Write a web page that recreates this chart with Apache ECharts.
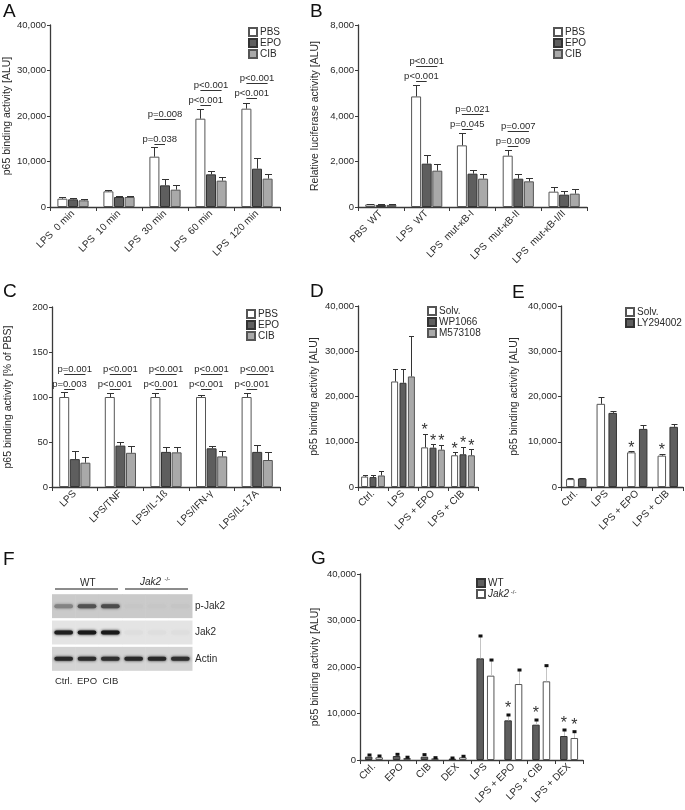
<!DOCTYPE html>
<html><head><meta charset="utf-8">
<script src="https://cdn.jsdelivr.net/npm/echarts@6/dist/echarts.min.js"></script>
<style>html,body{margin:0;padding:0;background:#fff}#c{width:685px;height:810px}</style>
</head><body><div id="c"></div>
<script>
// ---------------- DATA ----------------
// Panel A
const aCategories = ['LPS  0 min', 'LPS  10 min', 'LPS  30 min', 'LPS  60 min', 'LPS  120 min'];
const aPBS = [1830, 3440, 11060, 19410, 21610];
const aPBSErr = [2120, 3800, 13190, 21540, 22930];
const aEPO = [1685, 2200, 4760, 7180, 8420];
const aEPOErr = [1980, 2490, 6080, 7840, 10700];
const aCIB = [1465, 2200, 3810, 5790, 6230];
const aCIBErr = [1685, 2490, 4760, 6520, 7180];
const aSig = [[2, 13850, 19340], [3, 22420, 25710], [4, 23890, 27190]];
const aSigLow = ['p=0.038', 'p<0.001', 'p<0.001'];
const aSigHigh = ['p=0.008', 'p<0.001', 'p<0.001'];
const aTicks = [0, 10000, 20000, 30000, 40000];

// Panel B
const bCategories = ['PBS  WT', 'LPS  WT', 'LPS  mut-κB-I', 'LPS  mut-κB-II', 'LPS  mut-κB-I/II'];
const bPBS = [117, 4860, 2710, 2256, 674];
const bPBSErr = [150, 5380, 3267, 2520, 894];
const bEPO = [90, 1905, 1465, 1245, 542];
const bEPOErr = [115, 2270, 1640, 1436, 703];
const bCIB = [90, 1597, 1245, 1128, 586];
const bCIBErr = [115, 1875, 1436, 1275, 791];
const bSig = [[1, 5540, 6200], [2, 3415, 4100], [3, 2680, 3355]];
const bSigLow = ['p<0.001', 'p=0.045', 'p=0.009'];
const bSigHigh = ['p<0.001', 'p=0.021', 'p=0.007'];
const bTicks = [0, 2000, 4000, 6000, 8000];

// Panel C
const cCategories = ['LPS', 'LPS/TNF', 'LPS/IL-1ß', 'LPS/IFN-γ', 'LPS/IL-17A'];
const cPBS = [100, 100, 100, 100, 100];
const cPBSErr = [106, 105, 105, 102, 104];
const cEPO = [31, 46, 39, 43, 39];
const cEPOErr = [40, 50, 45, 46, 47];
const cCIB = [27, 38, 38.5, 34, 30];
const cCIBErr = [33, 46, 45, 40, 38.5];
const cSig = [[0, 109, 125.6], [1, 109, 125.6], [2, 109, 125.6], [3, 109, 125.6], [4, 109, 125.6]];
const cSigLow = ['p=0.003', 'p<0.001', 'p<0.001', 'p<0.001', 'p<0.001'];
const cSigHigh = ['p=0.001', 'p<0.001', 'p<0.001', 'p<0.001', 'p<0.001'];
const cTicks = [0, 50, 100, 150, 200];

// Panel D
const dCategories = ['Ctrl.', 'LPS', 'LPS + EPO', 'LPS + CIB'];
const dSolv = [2300, 23320, 8760, 7010];
const dSolvErr = [2550, 26050, 11800, 7660];
const dWP = [2190, 23030, 8690, 7230];
const dWPErr = [2700, 26050, 9420, 8830];
const dM57 = [2550, 24430, 8250, 7010];
const dM57Err = [3500, 33280, 9340, 8320];
const dStars = [[2, 0], [2, 1], [2, 2], [3, 0], [3, 1], [3, 2]];

// Panel E
const eCategories = ['Ctrl.', 'LPS', 'LPS + EPO', 'LPS + CIB'];
const eSolv = [1750, 18380, 7660, 6930];
const eSolvErr = [1900, 20000, 7880, 7300];
const eLY = [1900, 16380, 12840, 13300];
const eLYErr = [2040, 16900, 13800, 13900];
const eStars = [[2, 0], [3, 0]];

// Panel F (western blot band intensities, 0..1)
const fLanes = ['Ctrl.', 'EPO', 'CIB', 'Ctrl.', 'EPO', 'CIB'];
const fRows = ['p-Jak2', 'Jak2', 'Actin'];
const fPJak2 = [0.4, 0.68, 0.72, 0.02, 0.02, 0.03];
const fJak2 = [0.97, 1.0, 1.0, 0.03, 0.03, 0.03];
const fActin = [0.92, 0.9, 0.88, 0.92, 0.92, 0.88];

// Panel G
const gCategories = ['Ctrl.', 'EPO', 'CIB', 'DEX', 'LPS', 'LPS + EPO', 'LPS + CIB', 'LPS + DEX'];
const gWT = [717, 860, 717, 290, 21860, 8530, 7600, 5160];
const gWTErr = [1075, 1220, 1150, 430, 26670, 9680, 8600, 6450];
const gJak = [573, 430, 360, 573, 18140, 16340, 16920, 4730];
const gJakErr = [860, 600, 500, 800, 21500, 19350, 20290, 6090];
const gStars = [[5, 0], [6, 0], [7, 0], [7, 1]];

// ---------------- STYLE ----------------
const FONT = '"Liberation Sans", Arial, sans-serif';
const TXT = '#2a2a2a';
const AX = '#3a3a3a';
const WHITE = { color: '#ffffff', borderColor: '#555555', borderWidth: 1 };
const DARK = { color: '#5e5e5e', borderColor: '#333333', borderWidth: 1 };
const LIGHT = { color: '#a9a9a9', borderColor: '#555555', borderWidth: 1 };

const chart = echarts.init(document.getElementById('c'), null, { renderer: 'canvas', width: 685, height: 810 });

function fmtNum(v) { return Math.round(v).toString().replace(/\B(?=(\d{3})+(?!\d))/g, ','); }

function xAx(gi, cats) {
  return {
    type: 'category', gridIndex: gi, data: cats,
    axisLine: { show: true, lineStyle: { color: AX, width: 1.3 } },
    axisTick: { show: true, alignWithLabel: false, length: 4, lineStyle: { color: AX, width: 1 } },
    axisLabel: { interval: 0, rotate: 45, fontSize: 10, color: TXT, fontFamily: FONT, margin: 5 },
    splitLine: { show: false }
  };
}
function yAx(gi, ticks, name, gap) {
  return {
    type: 'value', gridIndex: gi, min: ticks[0], max: ticks[ticks.length - 1],
    interval: ticks[1] - ticks[0],
    name: name, nameLocation: 'middle', nameGap: gap, nameRotate: 90,
    nameTextStyle: { fontSize: 10.5, color: TXT, fontFamily: FONT },
    axisLine: { show: true, lineStyle: { color: AX, width: 1.3 } },
    axisTick: { show: true, length: 3, lineStyle: { color: AX, width: 1 } },
    axisLabel: { fontSize: 9.5, color: TXT, fontFamily: FONT, margin: 4, formatter: fmtNum },
    splitLine: { show: false }
  };
}

function offsetOf(n, idx, w, gap) { return (idx - (n - 1) / 2) * w * (1 + gap); }

function bars(gi, names, vals, styles, w, gap) {
  return names.map((nm, i) => ({
    type: 'bar', name: nm, xAxisIndex: gi, yAxisIndex: gi, data: vals[i],
    barWidth: w, barGap: (gap * 100) + '%', itemStyle: styles[i], silent: true
  }));
}

function errs(gi, vals, errv, w, gap, capHalf) {
  const n = vals.length;
  return vals.map((v, i) => ({
    type: 'custom', xAxisIndex: gi, yAxisIndex: gi, silent: true, z: 5,
    data: v.map((val, k) => [k, val, errv[i][k]]),
    renderItem: function (params, api) {
      const cat = api.value(0);
      const p0 = api.coord([cat, api.value(1)]);
      const p1 = api.coord([cat, api.value(2)]);
      const x = Math.round(p0[0] + offsetOf(n, i, w, gap)) + 0.5;
      const yt = Math.round(p1[1]) + 0.5;
      return {
        type: 'group', children: [
          { type: 'line', shape: { x1: x, y1: p0[1], x2: x, y2: yt }, style: { stroke: '#333', lineWidth: 1 } },
          { type: 'line', shape: { x1: x - capHalf, y1: yt, x2: x + capHalf, y2: yt }, style: { stroke: '#333', lineWidth: 1 } }
        ]
      };
    }
  }));
}

function errsG(gi, vals, errv, w, gap) {
  const n = vals.length;
  return vals.map((v, i) => ({
    type: 'custom', xAxisIndex: gi, yAxisIndex: gi, silent: true, z: 5,
    data: v.map((val, k) => [k, val, errv[i][k]]),
    renderItem: function (params, api) {
      const cat = api.value(0);
      const p0 = api.coord([cat, api.value(1)]);
      const p1 = api.coord([cat, api.value(2)]);
      const x = Math.round(p0[0] + offsetOf(n, i, w, gap)) + 0.5;
      return {
        type: 'group', children: [
          { type: 'line', shape: { x1: x, y1: p0[1], x2: x, y2: p1[1] }, style: { stroke: '#c4c4c4', lineWidth: 1 } },
          { type: 'rect', shape: { x: x - 2, y: p1[1] - 1.5, width: 4, height: 3 }, style: { fill: '#111' } }
        ]
      };
    }
  }));
}

function sigs(gi, sig, lows, highs, n, w, gap) {
  return {
    type: 'custom', xAxisIndex: gi, yAxisIndex: gi, silent: true, z: 6,
    data: sig,
    renderItem: function (params, api) {
      const cat = api.value(0);
      const pl = api.coord([cat, api.value(1)]);
      const ph = api.coord([cat, api.value(2)]);
      const c0 = pl[0] + offsetOf(n, 0, w, gap);
      const c1 = pl[0] + offsetOf(n, 1, w, gap);
      const c2 = pl[0] + offsetOf(n, 2, w, gap);
      const yl = Math.round(pl[1]) + 0.5, yh = Math.round(ph[1]) + 0.5;
      const ts = { fontSize: 9.5, fontFamily: FONT, fill: TXT, align: 'center', verticalAlign: 'bottom' };
      return {
        type: 'group', children: [
          { type: 'line', shape: { x1: c0, y1: yl, x2: c1, y2: yl }, style: { stroke: '#333', lineWidth: 1 } },
          { type: 'line', shape: { x1: c0, y1: yh, x2: c2, y2: yh }, style: { stroke: '#333', lineWidth: 1 } },
          { type: 'text', x: (c0 + c1) / 2, y: yl - 0.5, style: Object.assign({ text: lows[params.dataIndex] }, ts) },
          { type: 'text', x: (c0 + c2) / 2, y: yh - 0.5, style: Object.assign({ text: highs[params.dataIndex] }, ts) }
        ]
      };
    }
  };
}

function stars(gi, list, errv, n, w, gap, dy) {
  return {
    type: 'custom', xAxisIndex: gi, yAxisIndex: gi, silent: true, z: 6,
    data: list.map(s => [s[0], s[1], errv[s[1]][s[0]]]),
    renderItem: function (params, api) {
      const cat = api.value(0), idx = api.value(1);
      const p = api.coord([cat, api.value(2)]);
      const x = p[0] + offsetOf(n, idx, w, gap);
      return {
        type: 'text', x: x, y: p[1] - dy,
        style: { text: '*', fontSize: 16, fontFamily: FONT, fill: '#333', align: 'center', verticalAlign: 'middle' }
      };
    }
  };
}

function legend(left, top, names, extra) {
  return Object.assign({
    left: left, top: top, orient: 'vertical', padding: 0, itemGap: 1,
    itemWidth: 8, itemHeight: 8, icon: 'rect', selectedMode: false,
    data: names,
    textStyle: { fontSize: 10, color: TXT, fontFamily: FONT, lineHeight: 10, padding: [0, 0, 0, -2] }
  }, extra || {});
}

// ---------------- LAYOUT ----------------
const grids = [
  { left: 50, top: 25, width: 230, height: 182 },   // A
  { left: 358, top: 25, width: 229, height: 182 },  // B
  { left: 52, top: 307, width: 228, height: 180 },  // C
  { left: 358, top: 306, width: 120, height: 181 }, // D
  { left: 561, top: 306, width: 122, height: 181 }, // E
  { left: 360, top: 574, width: 223, height: 186 }, // G
  { left: 52, top: 593, width: 140, height: 79 }    // F blot
];

const bw3 = 10, bg3 = 0.06;
const dW = 7, dG = 0.2;
const eW = 8.5, eG = 0.4;
const gW = 7.5, gG = 0.4;

const series = [].concat(
  bars(0, ['PBS', 'EPO', 'CIB'], [aPBS, aEPO, aCIB], [WHITE, DARK, LIGHT], bw3, bg3),
  errs(0, [aPBS, aEPO, aCIB], [aPBSErr, aEPOErr, aCIBErr], bw3, bg3, 3.5),
  [sigs(0, aSig, aSigLow, aSigHigh, 3, bw3, bg3)],
  bars(1, ['PBS', 'EPO', 'CIB'], [bPBS, bEPO, bCIB], [WHITE, DARK, LIGHT], bw3, bg3),
  errs(1, [bPBS, bEPO, bCIB], [bPBSErr, bEPOErr, bCIBErr], bw3, bg3, 3.5),
  [sigs(1, bSig, bSigLow, bSigHigh, 3, bw3, bg3)],
  bars(2, ['PBS', 'EPO', 'CIB'], [cPBS, cEPO, cCIB], [WHITE, DARK, LIGHT], bw3, bg3),
  errs(2, [cPBS, cEPO, cCIB], [cPBSErr, cEPOErr, cCIBErr], bw3, bg3, 3.5),
  [sigs(2, cSig, cSigLow, cSigHigh, 3, bw3, bg3)],
  bars(3, ['Solv.', 'WP1066', 'M573108'], [dSolv, dWP, dM57], [WHITE, DARK, LIGHT], dW, dG),
  errs(3, [dSolv, dWP, dM57], [dSolvErr, dWPErr, dM57Err], dW, dG, 2.5),
  [stars(3, dStars, [dSolvErr, dWPErr, dM57Err], 3, dW, dG, 3)],
  bars(4, ['Solv.', 'LY294002'], [eSolv, eLY], [WHITE, DARK], eW, eG),
  errs(4, [eSolv, eLY], [eSolvErr, eLYErr], eW, eG, 3),
  [stars(4, eStars, [eSolvErr, eLYErr], 2, eW, eG, 3)],
  bars(5, ['WT', 'Jak2 -/-'], [gWT, gJak], [DARK, WHITE], gW, gG),
  errsG(5, [gWT, gJak], [gWTErr, gJakErr], gW, gG),
  [stars(5, gStars, [gWTErr, gJakErr], 2, gW, gG, 6)]
);

// Blot
const fRowBg = [202, 228, 212];
const fData = [];
[fPJak2, fJak2, fActin].forEach((row, r) => row.forEach((v, l) => fData.push([l, r, v])));
series.push({
  type: 'custom', xAxisIndex: 6, yAxisIndex: 6, silent: true,
  data: fData,
  renderItem: function (params, api) {
    const l = api.value(0), r = api.value(1), v = api.value(2);
    const c = api.coord([l, r]);
    const sz = api.size([1, 1]);
    const bg = fRowBg[r];
    const g = Math.round(bg - v * (bg - 25));
    const col = 'rgb(' + g + ',' + g + ',' + g + ')';
    const bcol = 'rgb(' + bg + ',' + bg + ',' + bg + ')';
    return {
      type: 'group', children: [
        { type: 'rect', shape: { x: c[0] - sz[0] / 2, y: c[1] - sz[1] / 2 + 1.2, width: sz[0] + 0.5, height: sz[1] - 2.4 }, style: { fill: bcol } },
        { type: 'rect', shape: { x: c[0] - sz[0] * 0.4, y: c[1] - 2, width: sz[0] * 0.8, height: 4, r: 2 }, style: { fill: col, shadowBlur: 3, shadowColor: col } }
      ]
    };
  }
});

const xAxes = [xAx(0, aCategories), xAx(1, bCategories), xAx(2, cCategories), xAx(3, dCategories), xAx(4, eCategories), xAx(5, gCategories),
  { type: 'category', gridIndex: 6, data: fLanes.map((d, i) => i < 3 ? d : ''), axisLine: { show: false }, axisTick: { show: false },
    axisLabel: { interval: 0, fontSize: 9.5, color: TXT, fontFamily: FONT, margin: 4 } }];
const yAxes = [
  yAx(0, aTicks, 'p65 binding activity [ALU]', 37),
  yAx(1, bTicks, 'Relative luciferase activity [ALU]', 37),
  yAx(2, cTicks, 'p65 binding activity [% of PBS]', 38),
  yAx(3, aTicks, 'p65 binding activity [ALU]', 38),
  yAx(4, aTicks, 'p65 binding activity [ALU]', 41),
  yAx(5, aTicks, 'p65 binding activity [ALU]', 39),
  { type: 'category', gridIndex: 6, data: fRows, inverse: true, position: 'right', axisLine: { show: false }, axisTick: { show: false },
    axisLabel: { fontSize: 10, color: TXT, fontFamily: FONT, margin: 3 } }
];

const letter = (t, x, y) => ({ type: 'text', left: x, top: y, style: { text: t, fontSize: 19, fontFamily: FONT, fill: '#111' } });

const option = {
  animation: false,
  backgroundColor: '#fff',
  grid: grids,
  xAxis: xAxes,
  yAxis: yAxes,
  legend: [
    legend(248, 27, ['PBS', 'EPO', 'CIB']),
    legend(553, 27, ['PBS', 'EPO', 'CIB']),
    legend(246, 309, ['PBS', 'EPO', 'CIB']),
    legend(427, 306, ['Solv.', 'WP1066', 'M573108']),
    legend(625, 307, ['Solv.', 'LY294002']),
    legend(476, 578, ['WT', 'Jak2 -/-'], {
      formatter: function (n) { return n === 'WT' ? 'WT' : '{i|Jak2}{s| -/-}'; },
      textStyle: { fontSize: 10, color: TXT, fontFamily: FONT, lineHeight: 10, padding: [0, 0, 0, -2],
        rich: { i: { fontStyle: 'italic', fontSize: 10, fontFamily: FONT, color: TXT }, s: { fontSize: 6, fontFamily: FONT, color: TXT, verticalAlign: 'top', padding: [0, 0, 4, 0] } } }
    })
  ],
  graphic: [
    letter('A', 3, 2), letter('B', 310, 2), letter('C', 3, 282), letter('D', 310, 282),
    letter('E', 512, 283), letter('F', 3, 550), letter('G', 311, 549),
    { type: 'text', left: 80, top: 578, style: { text: 'WT', fontSize: 10, fontFamily: FONT, fill: TXT } },
    { type: 'line', shape: { x1: 55, y1: 589, x2: 118, y2: 589 }, style: { stroke: '#666', lineWidth: 1.5 } },
    { type: 'text', left: 140, top: 576, style: { rich: { i: { fontStyle: 'italic', fontSize: 10, fontFamily: FONT, fill: TXT }, s: { fontSize: 6, fontFamily: FONT, fill: TXT, verticalAlign: 'top' } }, text: '{i|Jak2} {s|-/-}' } },
    { type: 'line', shape: { x1: 125, y1: 589, x2: 188, y2: 589 }, style: { stroke: '#666', lineWidth: 1.5 } }
  ],
  series: series
};
chart.setOption(option);
</script>
</body></html>
